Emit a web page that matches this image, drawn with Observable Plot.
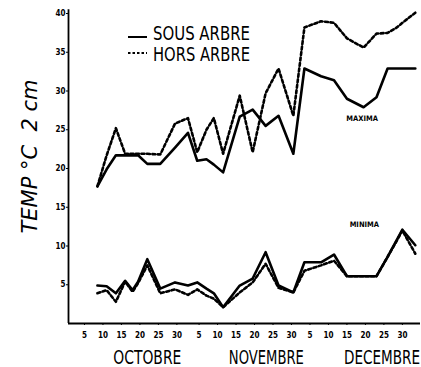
<!DOCTYPE html>
<html><head><meta charset="utf-8">
<script src="https://cdn.jsdelivr.net/npm/d3@7"></script>
<script src="https://cdn.jsdelivr.net/npm/@observablehq/plot@0.6"></script>
<style>
body{margin:0;background:#fff}
#chart svg{display:block;background:#fff}
</style></head><body><div id="chart"></div>
<script>
// day index: 1 Oct = 1, 1 Nov = 32, 1 Dec = 62
const days    = [8.5, 11, 13.5, 16, 18, 19.5, 22, 25.5, 29.5, 33, 35.5, 38, 40, 42.5, 47, 50.5, 54, 57.5, 61.5, 64.5, 69, 72.5, 76, 80.5, 84, 87, 89.5, 91, 94.5];
const maxSous = [17.7,19.9,21.7,21.7,21.7,21.7,20.6,20.6,22.7,24.6,21.0,21.2,20.5,19.5,26.7,27.6,25.5,26.8,21.9,32.9,31.9,31.4,29.0,27.9,29.2,32.9,32.9,32.9,32.9];
const maxHors = [17.7,21.7,25.2,21.9,21.9,21.9,21.9,21.8,25.8,26.5,22.1,25.0,26.5,21.9,29.4,22.1,29.7,32.9,26.8,38.2,39.0,38.8,36.8,35.6,37.4,37.5,38.2,38.8,40.1];
const minSous = [4.9,4.8,3.9,5.5,4.3,5.4,8.3,4.5,5.3,4.9,5.3,4.5,3.9,2.1,4.9,5.8,9.2,4.9,4.0,7.9,7.9,8.9,6.1,6.1,6.1,8.6,10.8,12.1,10.1];
const minHors = [3.9,4.3,2.8,5.4,4.1,5.2,7.5,3.9,4.4,3.7,4.4,3.6,3.2,2.1,4.0,5.3,7.7,4.6,4.0,6.8,7.5,8.1,6.1,6.1,6.1,8.6,10.7,12.0,9.0];

const xTicks = [5,10,15,20,25,30,36,41,46,51,56,61,66,71,76,81,86,91];
const xTickLabels = ["5","10","15","20","25","30","5","10","15","20","25","30","5","10","15","20","25","30"];
const yTicks = [5,10,15,20,25,30,35,40];
const months = ["OCTOBRE","NOVEMBRE","DECEMBRE"];
const monthCenters = [22.0, 54.2, 85.5];
const legendLabels = ["SOUS ARBRE","HORS ARBRE"];
const curveLabels = [{label:"MAXIMA", day:80.1, temp:26.5},{label:"MINIMA", day:80.7, temp:12.8}];
const yLabel = "TEMP °C\u00a0\u00a02\u00a0cm";

const toRows = (vals, key) => days.map((d,i)=>({day:d, temp:vals[i], key}));
const sous = [...toRows(maxSous,"max"), ...toRows(minSous,"min")];
const hors = [...toRows(maxHors,"max"), ...toRows(minHors,"min")];

const NARROW = "'Liberation Sans Narrow','DejaVu Sans Condensed','Arial Narrow','Liberation Sans',sans-serif";

function legend(index, scales, values, dims) {
  const g = d3.create("svg:g");
  const x0 = dims.marginLeft + 60, x1 = x0 + 19, tx = x1 + 6;
  const rows = [{y:37, dash:null, ty:40, t:legendLabels[0]},{y:53, dash:"2.5,2", ty:61, t:legendLabels[1]}];
  for (const r of rows) {
    const l = g.append("line").attr("x1",x0).attr("x2",x1).attr("y1",r.y).attr("y2",r.y)
      .attr("stroke","#000").attr("stroke-width",2);
    if (r.dash) l.attr("stroke-dasharray", r.dash);
    g.append("text").attr("x",tx).attr("y",r.ty).text(r.t)
      .attr("text-anchor","start")
      .attr("font-family",NARROW).attr("font-size",20)
      .attr("textLength",97).attr("lengthAdjust","spacingAndGlyphs")
      .attr("fill","#000");
  }
  return g.node();
}

const plot = Plot.plot({
  width: 421, height: 367,
  marginLeft: 68, marginRight: 1, marginTop: 13, marginBottom: 44,
  style: {fontFamily: NARROW, color: "#000", background: "#fff"},
  x: {domain: [0.68, 95.9]},
  y: {domain: [0, 40]},
  marks: [
    Plot.axisY({ticks: yTicks, tickSize: 2, tickPadding: 1, fontSize: 8, fontWeight: "bold", label: null}),
    Plot.axisX({ticks: xTicks, tickFormat: d => xTickLabels[xTicks.indexOf(d)], tickSize: 2, tickPadding: 7, fontSize: 8, fontWeight: "bold", label: null}),
    Plot.ruleY([0], {strokeWidth: 1.8}),
    Plot.ruleX([0.68], {y1: 0, y2: 40.5, strokeWidth: 1.8}),
    Plot.line(sous, {x: "day", y: "temp", z: "key", stroke: "#000", strokeWidth: 2.6}),
    Plot.line(hors, {x: "day", y: "temp", z: "key", stroke: "#000", strokeWidth: 2.6, strokeDasharray: "3,2.5"}),
    Plot.text(curveLabels, {x: "day", y: "temp", text: "label", fontSize: 7.5, fontWeight: "bold", fill: "#000"}),
    Plot.text(months, {x: (d,i) => monthCenters[i], text: d => d, frameAnchor: "bottom", lineAnchor: "middle", dy: 34, fontSize: 20, fill: "#000"}),
    Plot.text([yLabel], {frameAnchor: "left", textAnchor: "middle", dx: -38, dy: -12, rotate: -90, fontSize: 21, fontStyle: "italic", fontFamily: "'DejaVu Sans',sans-serif", fill: "#000"}),
    legend
  ]
});
// squeeze month labels to the condensed width of the original lettering
const monthWidths = {"OCTOBRE": 68, "NOVEMBRE": 75, "DECEMBRE": 76};
d3.select(plot).selectAll("text").each(function() {
  const t = this.textContent;
  if (monthWidths[t]) d3.select(this).attr("textLength", monthWidths[t]).attr("lengthAdjust", "spacingAndGlyphs");
});
document.getElementById("chart").append(plot);
</script>
</body></html>
